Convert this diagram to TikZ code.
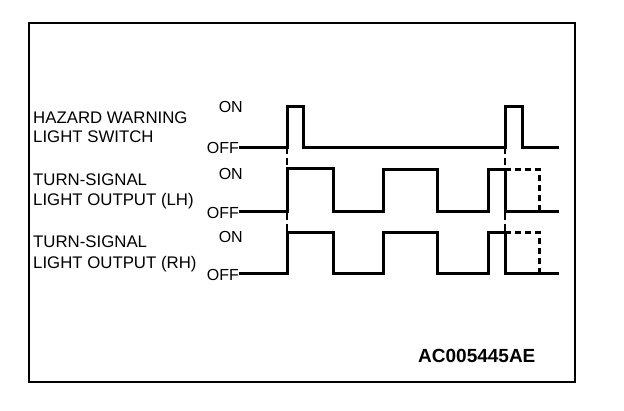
\documentclass[tikz,border=0pt]{standalone}
\usepackage{fontspec}
\setmainfont{Liberation Sans}
\begin{document}
\begin{tikzpicture}[x=1pt,y=-1pt,
  lbl/.style={inner sep=0pt,anchor=base west,font=\fontsize{16.8}{16.8}\selectfont},
  lvl/.style={inner sep=0pt,anchor=base east,font=\fontsize{16}{16}\selectfont},
  wave/.style={line width=3pt,line join=miter},
  ext/.style={line width=3pt,dash pattern=on 6pt off 4pt},
  guide/.style={line width=1.2pt,dash pattern=on 7pt off 4pt},
  frame/.style={line width=2.7pt}]
\useasboundingbox (0,0) rectangle (624,410);
\draw[frame] (29,23) rectangle (575,382);
% labels
\node[lbl] (h1) at (33,123) {HAZARD WARNING};
\node[lbl] (h2) at (33,142) {LIGHT SWITCH};
\node[lbl] (l1) at (33,185) {TURN-SIGNAL};
\node[lbl] (l2) at (33,205) {LIGHT OUTPUT (LH)};
\node[lbl] (r1) at (33,247) {TURN-SIGNAL};
\node[lbl] (r2) at (33,268) {LIGHT OUTPUT (RH)};
\node[lvl] (on1) at (243,112.5) {ON};
\node[lvl] (off1) at (239,153) {OFF};
\node[lvl] (on2) at (243,179) {ON};
\node[lvl] (off2) at (239,218) {OFF};
\node[lvl] (on3) at (243,242) {ON};
\node[lvl] (off3) at (239,280) {OFF};
\node[inner sep=0pt,anchor=base west,font=\bfseries\fontsize{19}{19}\selectfont] (code) at (418,362) {AC005445AE};
% guides
\draw[guide] (287,147) -- (287,232);
\draw[guide] (505,147) -- (505,232);
% hazard
\draw[wave] (239,147) -- (287,147) -- (287,106) -- (303,106) -- (303,147) -- (505,147) -- (505,106) -- (522,106) -- (522,147) -- (559,147);
% LH
\draw[wave] (239,211) -- (287,211) -- (287,168) -- (333,168) -- (333,211) -- (383,211) -- (383,169) -- (437,169) -- (437,211) -- (488,211) -- (488,169) -- (505,169) -- (505,211) -- (559,211);
\draw[ext] (505,169) -- (539,169) -- (539,211);
% RH
\draw[wave] (239,273) -- (287,273) -- (287,232) -- (333,232) -- (333,273) -- (383,273) -- (383,232) -- (437,232) -- (437,273) -- (488,273) -- (488,232) -- (505,232) -- (505,273) -- (559,273);
\draw[ext] (505,232) -- (539,232) -- (539,273);
\end{tikzpicture}
\end{document}
